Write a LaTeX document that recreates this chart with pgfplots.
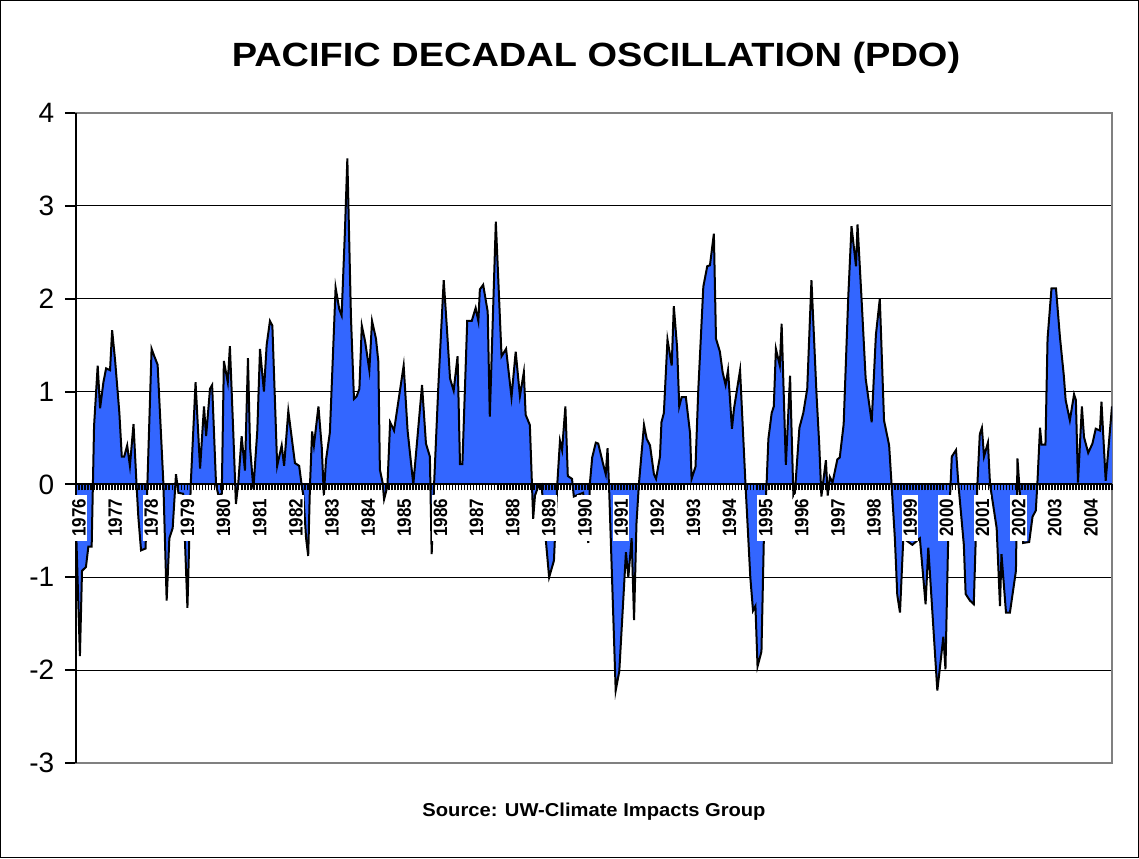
\documentclass[border=0pt]{standalone}
\usepackage{pgfplots}
\pgfplotsset{compat=1.18}
\usepackage{pgfplotstable}
\usepackage{fontspec}
\setmainfont{Liberation Sans}
\newfontfamily\titlefont[FakeStretch=1.13]{Liberation Sans}
\newfontfamily\srcfont[FakeStretch=1.08]{Liberation Sans}
\newfontfamily\yearfont[FakeStretch=0.88]{Liberation Sans}
\definecolor{pdoblue}{HTML}{3366FF}
\definecolor{framegray}{HTML}{808080}

% PDO index, x = months since start of 1976 (left edge of the plot)
\pgfplotstableread{
m v
0 -0.45
1.3 -1.85
2.0 -0.93
3.3 -0.89
4.1 -0.67
5.2 -0.67
6.0 0.63
7.2 1.28
8.0 0.82
9.1 1.10
10.0 1.25
11.3 1.23
12.0 1.66
13.0 1.33
14.4 0.77
15.2 0.30
16.0 0.30
17.0 0.42
17.9 0.20
19.1 0.65
20.1 0.0
20.7 -0.35
21.6 -0.71
23.1 -0.69
23.7 0.0
25.1 1.46
26.0 1.38
27.1 1.29
29.0 0.02
30.1 -1.25
31.0 -0.58
32.1 -0.47
33.2 0.11
34.0 -0.09
35.6 -0.10
37.0 -1.33
38.1 0.0
39.7 1.10
41.2 0.17
42.5 0.84
43.2 0.52
44.5 1.03
45.2 1.07
46.5 0.0
47.3 -0.12
48.4 -0.10
49.1 1.33
50.4 1.10
51.1 1.49
52.2 0.58
53.1 -0.21
53.9 0.02
55.0 0.52
56.1 0.15
57.1 1.36
57.8 0.40
58.9 -0.05
60.2 0.58
61.1 1.46
62.4 1.00
63.3 1.50
64.4 1.76
65.2 1.71
66.8 0.20
68.3 0.42
69.1 0.20
70.5 0.79
72.7 0.23
74.1 0.20
74.9 0.0
75.5 -0.12
76.4 -0.58
77.1 -0.77
77.7 0.0
78.4 0.57
79.0 0.42
80.5 0.84
81.6 0.40
82.3 -0.12
83.0 0.26
84.3 0.56
86.2 2.12
87.4 1.89
88.2 1.82
89.3 2.73
90.1 3.51
91.3 1.80
92.3 0.92
93.2 0.95
94.1 1.03
94.9 1.71
96.0 1.54
97.4 1.23
98.3 1.76
99.6 1.57
100.4 1.32
100.9 0.16
101.8 0.02
102.3 -0.16
103.4 -0.02
104.3 0.67
105.6 0.58
106.7 0.82
108.8 1.28
110.1 0.58
112.0 0.0
114.9 1.07
116.2 0.44
117.5 0.30
118.1 -0.75
118.9 0.0
120.3 1.05
122.1 2.20
123.1 1.71
124.2 1.14
125.4 1.01
126.7 1.38
127.5 0.22
128.3 0.22
129.9 1.76
131.4 1.76
132.7 1.90
133.6 1.76
134.1 2.10
135.2 2.15
136.7 1.86
137.4 0.73
139.4 2.83
141.3 1.38
142.8 1.46
144.6 0.94
146.0 1.43
147.4 0.95
148.7 1.21
149.3 0.75
150.7 0.64
151.8 -0.37
152.4 -0.12
153.5 -0.02
154.6 0.0
155.7 -0.49
157.1 -1.00
158.7 -0.82
159.8 0.0
160.7 0.47
161.4 0.37
162.5 0.84
163.3 0.09
164.7 0.06
165.3 -0.13
168.4 -0.09
170.1 -0.63
170.6 0.0
171.4 0.29
172.6 0.45
173.4 0.44
175.1 0.21
175.9 0.11
176.5 0.39
177.1 -0.12
179.2 -2.22
180.4 -2.01
182.6 -0.73
183.4 -1.00
184.5 -0.58
185.3 -1.46
186.1 -0.42
186.9 0.0
188.6 0.64
189.5 0.49
190.6 0.42
191.9 0.11
192.6 0.06
193.9 0.30
194.4 0.67
195.2 0.77
196.4 1.56
197.8 1.28
198.5 1.92
199.6 1.47
200.3 0.84
201.1 0.94
202.5 0.94
203.9 0.55
204.4 0.06
205.7 0.19
206.6 1.00
208.3 2.13
209.6 2.35
210.5 2.36
211.8 2.70
212.5 1.57
213.8 1.43
214.7 1.21
215.7 1.07
216.5 1.23
217.8 0.60
218.5 0.82
220.5 1.23
222.3 0.0
223.9 -1.00
224.8 -1.36
225.6 -1.31
226.3 -1.96
227.6 -1.80
228.4 -0.58
229.3 0.0
229.9 0.49
231.0 0.77
231.7 0.84
232.4 1.46
233.7 1.28
234.3 1.73
235.7 0.21
237.1 1.17
238.2 -0.12
238.7 -0.09
240.2 0.61
241.5 0.77
242.8 1.03
244.2 2.20
245.9 0.96
246.8 0.42
247.5 -0.13
249.0 0.26
249.6 -0.12
250.3 0.08
251.2 0.02
252.8 0.27
253.6 0.29
254.9 0.65
256.4 2.00
257.5 2.78
259.0 2.35
259.5 2.80
260.9 1.96
262.2 1.14
264.2 0.67
265.6 1.61
266.9 2.00
268.3 0.69
270.0 0.42
270.8 0.0
271.9 -0.58
272.7 -1.19
273.6 -1.38
274.7 -0.58
277.7 -0.65
280.2 -0.58
282.1 -1.29
283.0 -0.68
286.0 -2.22
288.0 -1.64
288.7 -1.99
289.6 -0.58
290.4 0.0
290.8 0.30
292.2 0.37
293.0 0.0
294.8 -0.65
295.4 -1.18
296.8 -1.25
298.1 -1.29
299.3 0.0
300.1 0.54
300.8 0.61
301.5 0.30
302.8 0.45
303.5 0.0
305.7 -0.47
306.8 -1.31
307.3 -0.75
308.8 -1.38
310.1 -1.38
312.1 -0.93
312.5 0.0
312.6 0.28
313.2 0.0
314.5 -0.63
316.5 -0.62
317.6 -0.35
318.7 -0.28
319.2 0.0
320.1 0.61
320.6 0.43
321.9 0.43
322.6 1.57
323.9 2.11
325.4 2.11
326.7 1.59
328.0 1.17
328.6 0.91
330.0 0.69
331.4 0.97
332.0 0.91
332.7 0.02
334.0 0.84
334.7 0.51
336.1 0.34
337.5 0.44
338.6 0.60
340.0 0.58
340.5 0.89
341.9 0.04
344.0 0.84
}\pdo

\begin{document}
\begin{tikzpicture}
\path[use as bounding box] (0,0) rectangle (854.25pt,643.5pt);
\draw[black, line width=0.75pt] (0.375pt,0.375pt) rectangle (853.875pt,643.125pt);

\node[anchor=base, inner sep=0pt, font=\titlefont\bfseries\fontsize{25.2}{30}\selectfont]
  at (447pt,593.5pt) {PACIFIC DECADAL OSCILLATION (PDO)};
\node[anchor=base, inner sep=0pt, font=\srcfont\bfseries\fontsize{14}{17}\selectfont]
  at (445.5pt,31.5pt) {Source: UW-Climate Impacts Group};

% plot area, grid and the area itself
\begin{axis}[
    at={(57pt,71.25pt)}, anchor=south west,
    scale only axis, width=777pt, height=487.5pt,
    xmin=0, xmax=344, ymin=-3, ymax=4,
    xtick=\empty,
    ytick={-3,...,4},
    yticklabels={-3,-2,-1,0,1,2,3,4},
    ytick pos=left,
    tick align=outside,
    major tick length=8.25pt,
    ytick style={black, line width=1.5pt},
    yticklabel style={font=\fontsize{21}{24}\selectfont, xshift=-4.5pt},
    ymajorgrids,
    grid style={black, line width=0.75pt},
    axis line style={framegray, line width=1.5pt},
]
\addplot[fill=pdoblue, draw=none] table {\pdo} \closedcycle;
\addplot[black, line width=1.5pt] table {\pdo};
\end{axis}

% zero line with monthly ticks and year labels, black value axis
\begin{axis}[
    at={(57pt,71.25pt)}, anchor=south west,
    scale only axis, width=777pt, height=487.5pt,
    xmin=0, xmax=344, ymin=-3, ymax=4,
    axis x line=middle, axis y line=left,
    every inner x axis line/.append style={-},
    every outer y axis line/.append style={-},
    axis line style={-, black, line width=1.5pt},
    ytick=\empty,
    xtick={1,13,...,337},
    xticklabels={1976,1977,1978,1979,1980,1981,1982,1983,1984,1985,1986,1987,1988,1989,1990,1991,1992,1993,1994,1995,1996,1997,1998,1999,2000,2001,2002,2003,2004},
    minor xtick={0,...,344},
    tick align=outside,
    major tick length=4.5pt,
    minor tick length=4.5pt,
    xtick style={black, line width=1.3pt},
    xticklabel shift=3pt,
    xticklabel style={rotate=90, anchor=east, fill=white,
        font=\yearfont\bfseries\fontsize{14.5}{16}\selectfont,
        inner xsep=3pt, inner ysep=1pt},
]
\end{axis}
\end{tikzpicture}
\end{document}
